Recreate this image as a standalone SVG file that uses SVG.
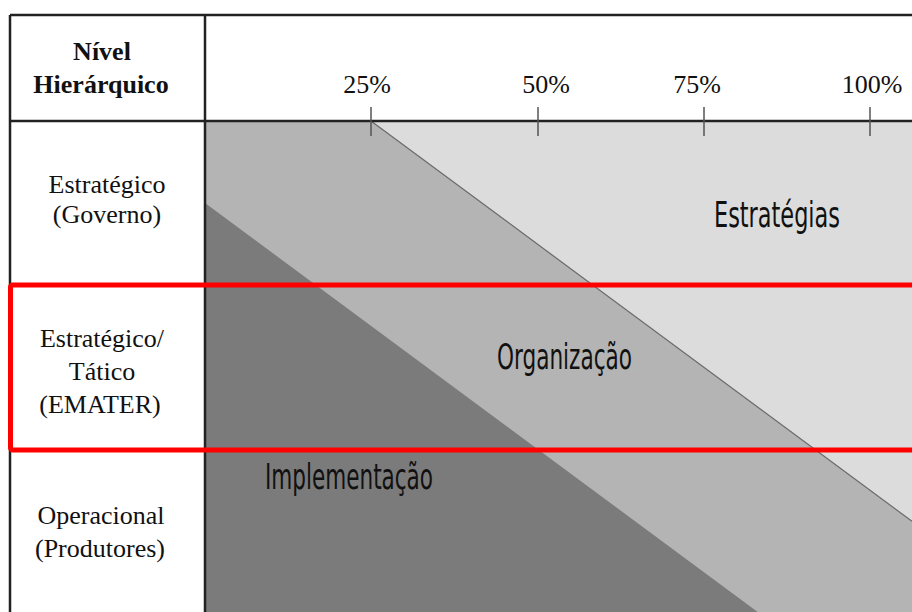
<svg xmlns="http://www.w3.org/2000/svg" width="912" height="612" viewBox="0 0 912 612">
  <style>
    .hdr { font-family: "Liberation Serif", "Times New Roman", serif; font-size: 26px; fill: #111; text-anchor: middle; }
    .bold { font-weight: bold; }
    .pct { font-family: "Liberation Serif", "Times New Roman", serif; font-size: 26px; fill: #111; text-anchor: middle; }
    .zone { font-family: "DejaVu Sans Condensed", "DejaVu Sans", sans-serif; font-stretch: condensed; font-size: 36px; fill: #111; }
    .grid { stroke: #222; stroke-width: 2.5; fill: none; }
    .tick { stroke: #555; stroke-width: 1.5; }
  </style>

  <rect width="912" height="612" fill="#ffffff"/>

  <!-- chart bands -->
  <g id="bands">
    <rect x="205" y="121" width="707" height="491" fill="#dcdcdc"/>
    <polygon points="205,121 371,121 912,521.3 912,612 205,612" fill="#b4b4b4"/>
    <polygon points="205,203 757.7,612 205,612" fill="#7b7b7b"/>
    <line x1="371" y1="121" x2="912" y2="521.3" stroke="#6a6a6a" stroke-width="1.2"/>
  </g>

  <!-- table frame -->
  <g id="frame">
    <line class="grid" x1="10" y1="15" x2="912" y2="15"/>
    <line class="grid" x1="10" y1="121" x2="912" y2="121"/>
    <line class="grid" x1="10" y1="15" x2="10" y2="612"/>
    <line class="grid" x1="205" y1="15" x2="205" y2="612"/>
  </g>

  <!-- percentage scale -->
  <g id="scale">
    <line class="tick" x1="371" y1="107" x2="371" y2="136"/>
    <line class="tick" x1="538" y1="107" x2="538" y2="136"/>
    <line class="tick" x1="704" y1="107" x2="704" y2="136"/>
    <line class="tick" x1="870" y1="107" x2="870" y2="136"/>
    <text class="pct" x="367" y="93">25%</text>
    <text class="pct" x="546" y="93">50%</text>
    <text class="pct" x="697" y="93">75%</text>
    <text class="pct" x="872" y="93">100%</text>
  </g>

  <!-- row headings -->
  <g id="header">
    <text class="hdr bold" x="102" y="60">Nível</text>
    <text class="hdr bold" x="101" y="93">Hierárquico</text>
  </g>
  <g id="row-estrategico">
    <text class="hdr" x="107" y="193">Estratégico</text>
    <text class="hdr" x="107" y="223">(Governo)</text>
  </g>
  <g id="row-tatico">
    <text class="hdr" x="102" y="347">Estratégico/</text>
    <text class="hdr" x="102" y="380">Tático</text>
    <text class="hdr" x="100" y="413">(EMATER)</text>
  </g>
  <g id="row-operacional">
    <text class="hdr" x="101" y="524">Operacional</text>
    <text class="hdr" x="100" y="557">(Produtores)</text>
  </g>

  <!-- band labels -->
  <g id="label-estrategias">
    <text class="zone" x="714" y="227" textLength="126" lengthAdjust="spacingAndGlyphs">Estratégias</text>
  </g>
  <g id="label-organizacao">
    <text class="zone" x="497" y="369" textLength="135" lengthAdjust="spacingAndGlyphs">Organização</text>
  </g>
  <g id="label-implementacao">
    <text class="zone" x="265" y="489" textLength="168" lengthAdjust="spacingAndGlyphs">Implementação</text>
  </g>

  <!-- highlighted row -->
  <g id="highlight">
    <rect x="10.5" y="285" width="920" height="165" rx="2" fill="none" stroke="#ff0000" stroke-width="5"/>
  </g>
</svg>
